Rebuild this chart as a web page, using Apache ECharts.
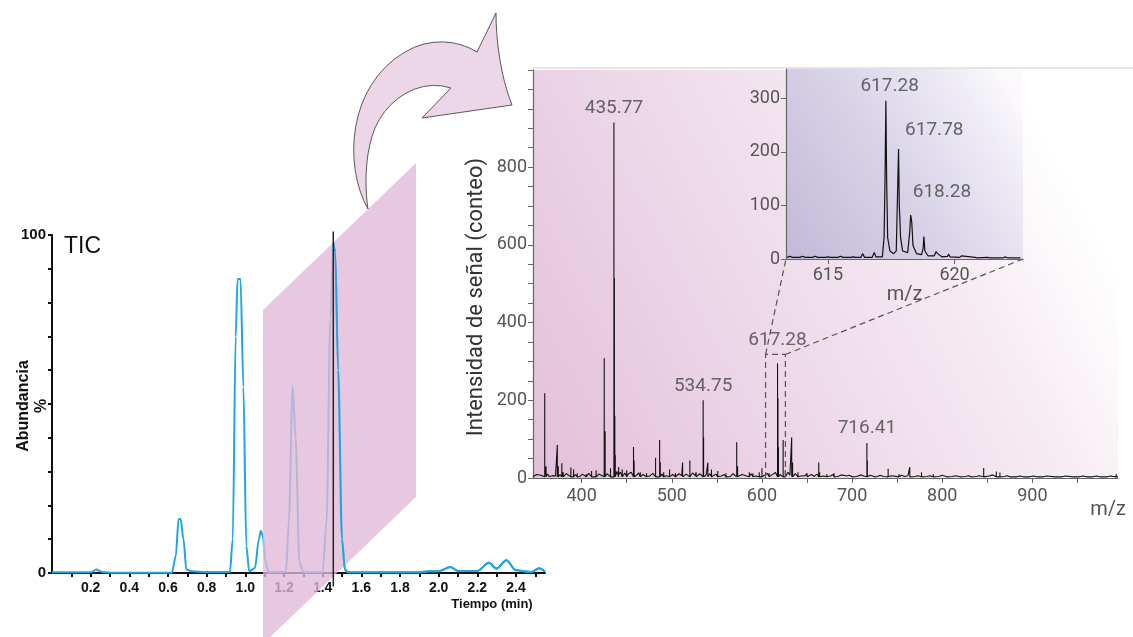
<!DOCTYPE html>
<html>
<head>
<meta charset="utf-8">
<script src="https://cdn.jsdelivr.net/npm/echarts@6/dist/echarts.min.js"></script>
<style>
  html, body { margin: 0; padding: 0; background: #fff; }
  #chart { width: 1133px; height: 637px; }
</style>
</head>
<body>
<div id="chart"></div>
<script>
// --- TIC chromatogram (left) ---
const ticTime = [0.00, 0.20, 0.23, 0.26, 0.30, 0.62, 0.64, 0.655, 0.665, 0.68, 0.695, 0.72, 0.80, 0.92, 0.935, 0.95, 0.96, 0.975, 0.99, 1.005, 1.02, 1.05, 1.07, 1.08, 1.09, 1.105, 1.12, 1.21, 1.225, 1.245, 1.26, 1.28, 1.30, 1.40, 1.42, 1.44, 1.455, 1.465, 1.48, 1.50, 1.515, 1.53, 1.90, 1.95, 2.00, 2.06, 2.10, 2.20, 2.26, 2.30, 2.35, 2.40, 2.48, 2.52, 2.55];
const ticAbund = [0.2, 0.2, 1.0, 0.3, 0.1, 0.1, 5, 16, 16, 10, 1, 0.5, 0.3, 0.3, 10, 70, 87, 87, 55, 8, 0.5, 1.5, 10, 12.5, 11, 3, 0.3, 0.3, 15, 55.5, 40, 3, 0.2, 0.3, 15, 75, 97.7, 95, 60, 10, 1, 0.2, 0.2, 0.5, 0.5, 1.8, 0.6, 0.6, 3, 1.3, 3.8, 0.8, 0.3, 1.4, 0.4];
const ticXLabels = [0.2, 0.4, 0.6, 0.8, 1.0, 1.2, 1.4, 1.6, 1.8, 2.0, 2.2, 2.4];
const ticXTicks = [0.1, 0.2, 0.3, 0.4, 0.5, 0.6, 0.7, 0.8, 0.9, 1.0, 1.1, 1.2, 1.3, 1.4, 1.5, 1.6, 1.7, 1.8, 1.9, 2.0, 2.1, 2.2, 2.3, 2.4, 2.5];
const ticYLabels = [0, 100];
const selectedTime = 1.455;

// --- mass spectrum (right) ---
const peakMz = [359, 360.5, 373, 374, 378, 379.5, 388, 391, 395, 405, 411, 416, 425, 426, 432, 435.77, 436.27, 436.77, 437.27, 441, 445, 450, 457.5, 458.2, 465, 472, 482, 486.5, 487.2, 491, 497.5, 504, 512, 520, 527, 534.75, 535.25, 540, 544, 551, 560, 572, 573, 586, 590, 597, 600, 608, 617.28, 617.78, 618.28, 623.5, 626, 633, 634, 640, 650, 663, 664, 672, 680, 690, 700, 716.41, 716.91, 725, 740, 752, 764, 777, 790, 805, 820, 832, 846, 860, 864, 875, 890, 905, 925, 945, 960, 975, 993];
const peakInt = [218, 30, 85, 30, 38, 15, 27, 22, 12, 10, 18, 20, 308, 120, 25, 915, 515, 160, 60, 28, 22, 20, 80, 45, 15, 12, 52, 98, 40, 15, 22, 12, 40, 45, 15, 200, 105, 40, 22, 18, 12, 92, 30, 15, 12, 15, 25, 12, 295, 205, 80, 98, 20, 105, 40, 15, 12, 40, 15, 10, 12, 10, 8, 90, 45, 8, 24, 10, 28, 15, 10, 8, 8, 8, 26, 17, 14, 8, 6, 6, 5, 6, 5, 6, 10];
// baseline noise band
const noiseMz = [
  347, 350, 352, 355, 357, 362, 364, 366, 368, 371,
  376, 381, 383, 385, 390, 393, 398, 401, 403, 408,
  413, 419, 421, 428, 430, 439, 441, 443, 446, 448,
  452, 455, 461, 463, 468, 470, 476, 479, 484, 489,
  494, 501, 506, 508, 511, 516, 518, 523, 526, 531,
  538, 542, 546, 549, 555, 558, 565, 568, 575, 578,
  582, 588, 593, 595, 603, 606, 611, 615, 620, 629,
  631, 637, 643, 645, 648, 655, 658, 661, 668, 670,
  676, 679, 684, 688, 694, 697, 705, 710, 713, 720,
  728, 731, 735, 744, 746, 755, 758, 762, 770, 773,
  783, 786, 796, 800, 811, 815, 826, 829, 838, 841,
  852, 856, 869, 872, 883, 886, 897, 901, 912, 916,
  933, 937, 952, 956, 967, 971, 983, 987, 990];
const noiseInt = [
  5, 9, 4, 7, 5, 10, 4, 8, 6, 5,
  9, 4, 11, 6, 5, 9, 4, 10, 5, 12,
  5, 10, 6, 11, 14, 17, 9, 15, 8, 13,
  11, 15, 7, 13, 9, 12, 6, 12, 7, 10,
  6, 9, 5, 11, 6, 10, 5, 13, 6, 11,
  7, 11, 6, 10, 5, 9, 4, 11, 5, 9,
  6, 11, 5, 10, 7, 12, 8, 14, 9, 15,
  7, 11, 5, 10, 6, 9, 4, 10, 5, 9,
  5, 9, 4, 8, 5, 7, 4, 8, 5, 7,
  4, 7, 4, 6, 4, 7, 4, 6, 4, 6,
  4, 6, 4, 7, 4, 6, 4, 6, 4, 6,
  5, 8, 4, 6, 3, 5, 3, 5, 3, 5,
  3, 5, 3, 5, 3, 5, 3, 5, 4];
const baseLevel = 3;
const labeledMz = [435.77, 534.75, 617.28, 716.41];
const labeledInt = [915, 200, 295, 90];
const specXLabels = [400, 500, 600, 700, 800, 900];
const specXTicks = [400, 450, 500, 550, 600, 650, 700, 750, 800, 850, 900, 950];
const specYLabels = [0, 200, 400, 600, 800];
const zoomRange = [604, 626];
const zoomTop = 318;

// --- inset (617 cluster) ---
const insetMz = [613.4, 613.5, 613.6, 613.9, 614.0, 614.1, 614.4, 614.5, 614.6, 614.9, 615.0, 615.1, 615.4, 615.5, 615.6, 615.9, 616.0, 616.1, 616.3, 616.38, 616.45, 616.75, 616.83, 616.9, 617.15, 617.22, 617.26, 617.29, 617.32, 617.36, 617.45, 617.6, 617.7, 617.75, 617.79, 617.82, 617.87, 617.95, 618.15, 618.23, 618.27, 618.31, 618.36, 618.5, 618.7, 618.76, 618.79, 618.83, 618.95, 619.2, 619.27, 619.33, 619.5, 619.72, 619.77, 619.82, 620.2, 620.28, 620.35, 620.8, 620.85, 620.9, 621.3, 621.35, 621.4, 621.9, 622.0, 622.1, 622.6];
const insetInt = [3, 5, 3, 3, 5, 3, 3, 5, 3, 3, 4, 3, 3, 5, 3, 3, 4, 3, 3, 10, 3, 3, 12, 4, 4, 40, 160, 295, 150, 40, 15, 10, 15, 120, 205, 100, 40, 15, 12, 50, 82, 70, 25, 10, 8, 20, 42, 15, 6, 6, 14, 10, 4, 5, 9, 4, 3, 6, 3, 3, 5, 2, 3, 5, 2, 2, 4, 2, 2];
const insetLabeledMz = [617.28, 617.78, 618.28];
const insetLabeledInt = [295, 205, 82];
const insetXLabels = [615, 620];
const insetYLabels = [0, 100, 200, 300];

const chart = echarts.init(document.getElementById('chart'));

const ticData = ticTime.map((t, i) => [t, ticAbund[i]]);
const ticFront = ticData.filter(p => p[0] >= selectedTime);

// peaks are sticks (base -> top -> base), noise points just make the baseline jagged
const marks = peakMz.map((m, i) => ({m: m, h: peakInt[i], stick: true}))
  .concat(noiseMz.map((m, i) => ({m: m, h: noiseInt[i], stick: false})))
  .sort((a, b) => a.m - b.m);
const specData = [[346, baseLevel]];
marks.forEach(s => {
  if (s.stick) specData.push([s.m, baseLevel], [s.m, s.h], [s.m, baseLevel]);
  else specData.push([s.m, s.h]);
});
specData.push([995, baseLevel]);

const insetData = insetMz.map((m, i) => [m, insetInt[i]]);

const numFont = 'Roboto';
const grey = '#555';

chart.setOption({
  animation: false,
  grid: [
    {left: 52, top: 235, width: 493, height: 338},
    {
      left: 533, top: 70, width: 585, height: 408, show: true, borderWidth: 0,
      backgroundColor: new echarts.graphic.LinearGradient(0, 1, 1, 0.25, [
        {offset: 0, color: '#e3bfd9'},
        {offset: 0.35, color: '#ecd5e6'},
        {offset: 0.7, color: '#f5eaf2'},
        {offset: 0.93, color: '#ffffff'}
      ])
    },
    {
      left: 786, top: 68.7, width: 237, height: 190.3, show: true, borderWidth: 0,
      backgroundColor: new echarts.graphic.LinearGradient(0, 1, 1, 0.2, [
        {offset: 0, color: '#c3b9d8'},
        {offset: 0.5, color: '#d9d3e8'},
        {offset: 0.85, color: '#efecf5'},
        {offset: 1, color: '#fbf9fc'}
      ])
    }
  ],
  xAxis: [
    {
      gridIndex: 0, type: 'value', min: 0, max: 2.55,
      axisLine: {lineStyle: {color: '#111', width: 2}},
      axisTick: {customValues: ticXTicks, length: 4, lineStyle: {color: '#111', width: 2}},
      axisLabel: {
        customValues: ticXLabels, formatter: v => v.toFixed(1),
        color: '#111', fontWeight: 'bold', fontSize: 14, fontFamily: 'Liberation Sans', margin: 8
      },
      splitLine: {show: false}
    },
    {
      gridIndex: 1, type: 'value', min: 346, max: 995,
      axisLine: {lineStyle: {color: '#666', width: 1.2}},
      axisTick: {customValues: specXTicks, length: 5, lineStyle: {color: '#666'}},
      axisLabel: {customValues: specXLabels, color: grey, fontSize: 18, fontFamily: numFont, margin: 9},
      splitLine: {show: false}
    },
    {
      gridIndex: 2, type: 'value', min: 613.35, max: 622.7,
      axisLine: {lineStyle: {color: '#666', width: 1.2}},
      axisTick: {customValues: insetXLabels, length: 5, lineStyle: {color: '#666'}},
      axisLabel: {customValues: insetXLabels, color: grey, fontSize: 18, fontFamily: numFont, margin: 7},
      splitLine: {show: false},
      name: 'm/z', nameLocation: 'middle', nameGap: 15,
      nameTextStyle: {color: grey, fontSize: 20, fontFamily: numFont}
    }
  ],
  yAxis: [
    {
      gridIndex: 0, type: 'value', min: 0, max: 100, interval: 10,
      axisLine: {show: true, lineStyle: {color: '#111', width: 2}},
      axisTick: {show: true, length: 4, lineStyle: {color: '#111', width: 2}},
      axisLabel: {
        customValues: ticYLabels, color: '#111', fontWeight: 'bold',
        fontSize: 15, fontFamily: 'Liberation Sans', margin: 6
      },
      splitLine: {show: false}
    },
    {
      gridIndex: 1, type: 'value', min: 0, max: 1050, interval: 50,
      axisLine: {show: true, lineStyle: {color: '#666', width: 1.2}},
      axisTick: {show: true, length: 5, lineStyle: {color: '#666'}},
      axisLabel: {customValues: specYLabels, color: grey, fontSize: 18, fontFamily: numFont, margin: 6},
      splitLine: {show: false}
    },
    {
      gridIndex: 2, type: 'value', min: 0, max: 355,
      axisLine: {show: true, lineStyle: {color: '#666', width: 1.2}},
      axisTick: {show: true, customValues: insetYLabels, length: 5, lineStyle: {color: '#666'}},
      axisLabel: {customValues: insetYLabels, color: grey, fontSize: 18, fontFamily: numFont, margin: 6},
      splitLine: {show: false}
    }
  ],
  series: [
    {
      type: 'line', xAxisIndex: 0, yAxisIndex: 0, data: ticData, z: 2,
      showSymbol: false, smooth: 0.3, smoothMonotone: 'x',
      lineStyle: {color: '#1ea6df', width: 2}
    },
    {
      type: 'line', xAxisIndex: 0, yAxisIndex: 0, data: ticFront, z: 10,
      showSymbol: false, smooth: 0.3, smoothMonotone: 'x',
      lineStyle: {color: '#1ea6df', width: 2}
    },
    {
      type: 'line', xAxisIndex: 0, yAxisIndex: 0, z: 11, clip: false,
      data: [[selectedTime, 101], [selectedTime, -4]], showSymbol: false,
      lineStyle: {color: '#222', width: 1.5}
    },
    {
      type: 'line', xAxisIndex: 1, yAxisIndex: 1, data: specData, z: 3,
      showSymbol: false, lineStyle: {color: '#111', width: 1.1}
    },
    {
      type: 'scatter', xAxisIndex: 1, yAxisIndex: 1, symbolSize: 0, z: 4,
      data: labeledMz.map((m, i) => ({
        value: [m, labeledInt[i]],
        label: {distance: m > 600 && m < 650 ? 14 : 5}
      })),
      label: {
        show: true, position: 'top', formatter: p => p.value[0].toFixed(2),
        color: '#444', fontSize: 19, fontFamily: numFont
      }
    },
    {
      type: 'line', xAxisIndex: 1, yAxisIndex: 1, z: 4,
      data: [[zoomRange[0], 0], [zoomRange[0], zoomTop], [zoomRange[1], zoomTop], [zoomRange[1], 0]],
      showSymbol: false, lineStyle: {color: '#555', width: 1.2, type: [6, 4]}
    },
    {
      type: 'line', xAxisIndex: 2, yAxisIndex: 2, data: insetData, z: 3,
      showSymbol: false, lineStyle: {color: '#111', width: 1.2}
    },
    {
      type: 'scatter', xAxisIndex: 2, yAxisIndex: 2, symbolSize: 0, z: 4,
      data: insetLabeledMz.map((m, i) => ({
        value: [m, insetLabeledInt[i]],
        label: {offset: i === 0 ? [4, 0] : (i === 1 ? [36, -4] : [31, -8])}
      })),
      label: {
        show: true, position: 'top', distance: 5, formatter: p => p.value[0].toFixed(2),
        color: '#444', fontSize: 19, fontFamily: numFont
      }
    }
  ]
});

// decorative shapes: curved arrow, slanted plane, zoom guides
function cubic(p0, p1, p2, p3, n) {
  const pts = [];
  for (let k = 1; k <= n; k++) {
    const t = k / n, u = 1 - t;
    pts.push([
      u * u * u * p0[0] + 3 * u * u * t * p1[0] + 3 * u * t * t * p2[0] + t * t * t * p3[0],
      u * u * u * p0[1] + 3 * u * u * t * p1[1] + 3 * u * t * t * p2[1] + t * t * t * p3[1]
    ]);
  }
  return pts;
}
let arrow = [[368, 209]];
arrow = arrow.concat(cubic([368, 209], [343, 165], [348, 85], [405, 52], 16));
arrow = arrow.concat(cubic([405, 52], [430, 37], [458, 40], [477, 52], 8));
arrow.push([496, 13]);
arrow = arrow.concat(cubic([496, 13], [496, 45], [502, 80], [512, 105], 10));
arrow.push([422, 118], [451, 88]);
arrow = arrow.concat(cubic([451, 88], [420, 78], [388, 98], [375, 128], 10));
arrow = arrow.concat(cubic([375, 128], [364, 155], [365, 190], [368, 209], 10));

const boxTL = chart.convertToPixel({gridIndex: 1}, [zoomRange[0], zoomTop]);
const boxTR = chart.convertToPixel({gridIndex: 1}, [zoomRange[1], zoomTop]);
const insetBL = chart.convertToPixel({gridIndex: 2}, [613.35, 0]);
const insetBR = chart.convertToPixel({gridIndex: 2}, [622.7, 0]);
const dash = {stroke: '#555', lineWidth: 1.2, lineDash: [6, 4]};

chart.setOption({
  graphic: [
    {type: 'polygon', z: 5, shape: {points: [[263, 310], [416, 163], [416, 497], [263, 644]]},
      style: {fill: 'rgba(226,184,216,0.78)'}},
    {type: 'polygon', z: 5, shape: {points: arrow},
      style: {fill: '#ecd6e7', stroke: '#333', lineWidth: 0.8}},
    {type: 'line', z: 5, shape: {x1: 533, y1: 68, x2: 1133, y2: 68}, style: {stroke: '#dcdcdc', lineWidth: 1.5}},
    {type: 'line', z: 6, shape: {x1: boxTL[0], y1: boxTL[1], x2: insetBL[0], y2: insetBL[1]}, style: dash},
    {type: 'line', z: 6, shape: {x1: boxTR[0], y1: boxTR[1], x2: insetBR[0], y2: insetBR[1]}, style: dash},
    {type: 'text', z: 6, x: 64, y: 247,
      style: {text: 'TIC', fontSize: 23, fontFamily: 'Liberation Sans', fill: '#111', verticalAlign: 'middle'}},
    {type: 'text', z: 6, x: 33, y: 406, rotation: Math.PI / 2,
      style: {text: 'Abundancia\n%', fontSize: 16, fontWeight: 'bold', fontFamily: 'Liberation Sans',
        fill: '#111', align: 'center', verticalAlign: 'middle', lineHeight: 18}},
    {type: 'text', z: 6, x: 492, y: 604,
      style: {text: 'Tiempo (min)', fontSize: 13, fontWeight: 'bold', fontFamily: 'Liberation Sans',
        fill: '#111', align: 'center', verticalAlign: 'middle'}},
    {type: 'text', z: 6, x: 476, y: 297, rotation: Math.PI / 2,
      style: {text: 'Intensidad de señal (conteo)', fontSize: 22, fontFamily: numFont,
        fill: '#333', align: 'center', verticalAlign: 'middle'}},
    {type: 'text', z: 6, x: 1108, y: 510,
      style: {text: 'm/z', fontSize: 20, fontFamily: numFont, fill: grey, align: 'center', verticalAlign: 'middle'}}
  ]
});
</script>
</body>
</html>
